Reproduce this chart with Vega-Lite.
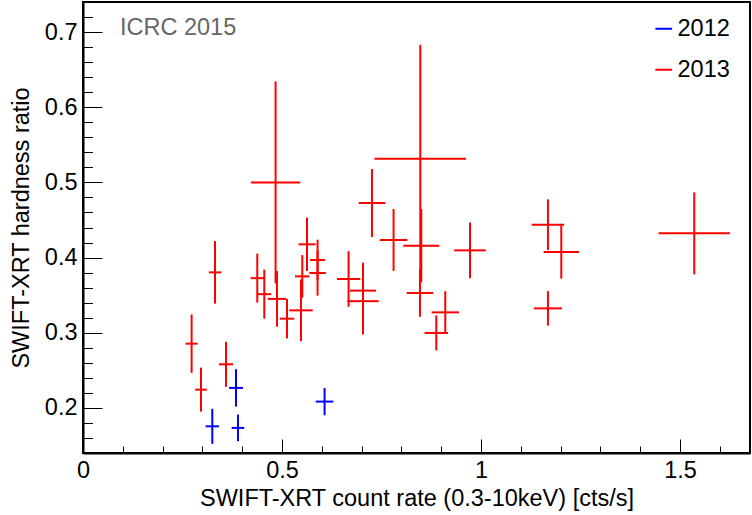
{
  "$schema": "https://vega.github.io/schema/vega-lite/v6.json",
  "width": 667,
  "height": 451,
  "autosize": {"type": "none"},
  "padding": {"left": 83, "top": 2, "right": 2, "bottom": 62},
  "background": "white",
  "config": {
    "font": "Liberation Sans",
    "view": {"stroke": "black", "strokeWidth": 2},
    "axis": {"grid": false, "labelFont": "Liberation Sans", "titleFont": "Liberation Sans", "labelColor": "black", "titleColor": "black", "domainColor": "black", "domainWidth": 2, "tickColor": "black", "tickWidth": 1, "labelFontSize": 23.5, "titleFontSize": 23.5, "titleFontWeight": "normal"},
    "legend": {"labelFont": "Liberation Sans"}
  },
  "datasets": {
    "pts": [
      {"year": "2012", "x": 0.3249, "xlo": 0.3081, "xhi": 0.3417, "y": 0.1755, "ylo": 0.1522, "yhi": 0.1988},
      {"year": "2012", "x": 0.3844, "xlo": 0.3668, "xhi": 0.4020, "y": 0.2266, "ylo": 0.2017, "yhi": 0.2515},
      {"year": "2012", "x": 0.3894, "xlo": 0.3736, "xhi": 0.4052, "y": 0.1734, "ylo": 0.1557, "yhi": 0.1911},
      {"year": "2012", "x": 0.6070, "xlo": 0.5849, "xhi": 0.6291, "y": 0.2084, "ylo": 0.1902, "yhi": 0.2266},
      {"year": "2013", "x": 0.2729, "xlo": 0.2578, "xhi": 0.2880, "y": 0.2855, "ylo": 0.2467, "yhi": 0.3243},
      {"year": "2013", "x": 0.2965, "xlo": 0.2819, "xhi": 0.3111, "y": 0.2243, "ylo": 0.1950, "yhi": 0.2536},
      {"year": "2013", "x": 0.3317, "xlo": 0.3161, "xhi": 0.3473, "y": 0.3803, "ylo": 0.3387, "yhi": 0.4219},
      {"year": "2013", "x": 0.3593, "xlo": 0.3417, "xhi": 0.3769, "y": 0.2580, "ylo": 0.2281, "yhi": 0.2879},
      {"year": "2013", "x": 0.4379, "xlo": 0.4211, "xhi": 0.4547, "y": 0.3726, "ylo": 0.3400, "yhi": 0.4052},
      {"year": "2013", "x": 0.4555, "xlo": 0.4379, "xhi": 0.4731, "y": 0.3513, "ylo": 0.3187, "yhi": 0.3839},
      {"year": "2013", "x": 0.4839, "xlo": 0.4218, "xhi": 0.5460, "y": 0.5000, "ylo": 0.3657, "yhi": 0.6343},
      {"year": "2013", "x": 0.4874, "xlo": 0.4643, "xhi": 0.5105, "y": 0.3450, "ylo": 0.3080, "yhi": 0.3820},
      {"year": "2013", "x": 0.5126, "xlo": 0.4943, "xhi": 0.5309, "y": 0.3187, "ylo": 0.2924, "yhi": 0.3450},
      {"year": "2013", "x": 0.5477, "xlo": 0.5181, "xhi": 0.5773, "y": 0.3298, "ylo": 0.2888, "yhi": 0.3708},
      {"year": "2013", "x": 0.5510, "xlo": 0.5327, "xhi": 0.5693, "y": 0.3750, "ylo": 0.3467, "yhi": 0.4033},
      {"year": "2013", "x": 0.5628, "xlo": 0.5414, "xhi": 0.5842, "y": 0.4176, "ylo": 0.3821, "yhi": 0.4531},
      {"year": "2013", "x": 0.5894, "xlo": 0.5706, "xhi": 0.6082, "y": 0.3968, "ylo": 0.3698, "yhi": 0.4238},
      {"year": "2013", "x": 0.5894, "xlo": 0.5685, "xhi": 0.6103, "y": 0.3795, "ylo": 0.3493, "yhi": 0.4097},
      {"year": "2013", "x": 0.6673, "xlo": 0.6379, "xhi": 0.6967, "y": 0.3715, "ylo": 0.3345, "yhi": 0.4085},
      {"year": "2013", "x": 0.7035, "xlo": 0.6708, "xhi": 0.7362, "y": 0.3560, "ylo": 0.3188, "yhi": 0.3932},
      {"year": "2013", "x": 0.7035, "xlo": 0.6638, "xhi": 0.7432, "y": 0.3420, "ylo": 0.2977, "yhi": 0.3863},
      {"year": "2013", "x": 0.7261, "xlo": 0.6927, "xhi": 0.7595, "y": 0.4726, "ylo": 0.4274, "yhi": 0.5178},
      {"year": "2013", "x": 0.7804, "xlo": 0.7457, "xhi": 0.8151, "y": 0.4234, "ylo": 0.3824, "yhi": 0.4644},
      {"year": "2013", "x": 0.8500, "xlo": 0.8048, "xhi": 0.8952, "y": 0.4158, "ylo": 0.3670, "yhi": 0.4646},
      {"year": "2013", "x": 0.8475, "xlo": 0.7325, "xhi": 0.9625, "y": 0.5315, "ylo": 0.3799, "yhi": 0.6831},
      {"year": "2013", "x": 0.8467, "xlo": 0.8133, "xhi": 0.8801, "y": 0.3529, "ylo": 0.3212, "yhi": 0.3846},
      {"year": "2013", "x": 0.9103, "xlo": 0.8759, "xhi": 0.9447, "y": 0.3271, "ylo": 0.2989, "yhi": 0.3553},
      {"year": "2013", "x": 0.8877, "xlo": 0.8581, "xhi": 0.9173, "y": 0.2997, "ylo": 0.2764, "yhi": 0.3230},
      {"year": "2013", "x": 0.9724, "xlo": 0.9327, "xhi": 1.0121, "y": 0.4096, "ylo": 0.3726, "yhi": 0.4466},
      {"year": "2013", "x": 1.1683, "xlo": 1.1276, "xhi": 1.2090, "y": 0.4438, "ylo": 0.4101, "yhi": 0.4775},
      {"year": "2013", "x": 1.2018, "xlo": 1.1573, "xhi": 1.2463, "y": 0.4074, "ylo": 0.3719, "yhi": 0.4429},
      {"year": "2013", "x": 1.1683, "xlo": 1.1331, "xhi": 1.2035, "y": 0.3324, "ylo": 0.3095, "yhi": 0.3553},
      {"year": "2013", "x": 1.5359, "xlo": 1.4462, "xhi": 1.6256, "y": 0.4322, "ylo": 0.3777, "yhi": 0.4867}
    ],
    "note": [{"tx": 0.093, "ty": 0.6964, "label": "ICRC 2015"}]
  },
  "resolve": {"axis": {"x": "independent", "y": "independent"}},
  "layer": [
    {
      "data": {"name": "pts"},
      "mark": {"type": "rule", "strokeWidth": 2},
      "encoding": {
        "x": {"field": "xlo", "type": "quantitative", "scale": {"domain": [0, 1.676], "nice": false, "zero": false},
              "axis": {"orient": "bottom", "values": [0, 0.5, 1, 1.5], "format": "~g", "tickSize": -14, "labelPadding": 19, "labelFlush": false, "title": "SWIFT-XRT count rate (0.3-10keV) [cts/s]", "titlePadding": 5}},
        "x2": {"field": "xhi"},
        "y": {"field": "y", "type": "quantitative", "scale": {"domain": [0.14, 0.74], "nice": false, "zero": false},
              "axis": {"orient": "left", "values": [0.2, 0.3, 0.4, 0.5, 0.6, 0.7], "format": "~g", "tickSize": -19, "labelPadding": 25, "labelFlush": false, "title": "SWIFT-XRT hardness ratio", "titlePadding": 11}},
        "color": {"field": "year", "type": "nominal",
                  "scale": {"domain": ["2012", "2013"], "range": ["#0000ff", "#ff0000"]},
                  "legend": {"title": null, "orient": "none", "legendX": 569, "legendY": 15, "symbolType": "stroke", "symbolSize": 280, "symbolStrokeWidth": 2, "labelFontSize": 23.5, "labelColor": "black", "labelOffset": 2, "rowPadding": 16}}
      }
    },
    {
      "data": {"name": "pts"},
      "mark": {"type": "rule", "strokeWidth": 2},
      "encoding": {
        "x": {"field": "x", "type": "quantitative",
              "axis": {"orient": "bottom", "values": [0.1, 0.2, 0.3, 0.4, 0.6, 0.7, 0.8, 0.9, 1.1, 1.2, 1.3, 1.4, 1.6], "tickSize": -7, "labels": false, "domain": false, "title": null}},
        "y": {"field": "ylo", "type": "quantitative",
              "axis": {"orient": "left", "values": [0.14, 0.16, 0.18, 0.22, 0.24, 0.26, 0.28, 0.32, 0.34, 0.36, 0.38, 0.42, 0.44, 0.46, 0.48, 0.52, 0.54, 0.56, 0.58, 0.62, 0.64, 0.66, 0.68, 0.72, 0.74], "tickSize": -9.5, "labels": false, "domain": false, "title": null}},
        "y2": {"field": "yhi"},
        "color": {"field": "year", "type": "nominal", "legend": null}
      }
    },
    {
      "data": {"name": "note"},
      "mark": {"type": "text", "align": "left", "baseline": "alphabetic", "font": "Liberation Sans", "fontSize": 23.5, "color": "#666666"},
      "encoding": {
        "x": {"field": "tx", "type": "quantitative", "axis": null},
        "y": {"field": "ty", "type": "quantitative", "axis": null},
        "text": {"field": "label"}
      }
    }
  ]
}
